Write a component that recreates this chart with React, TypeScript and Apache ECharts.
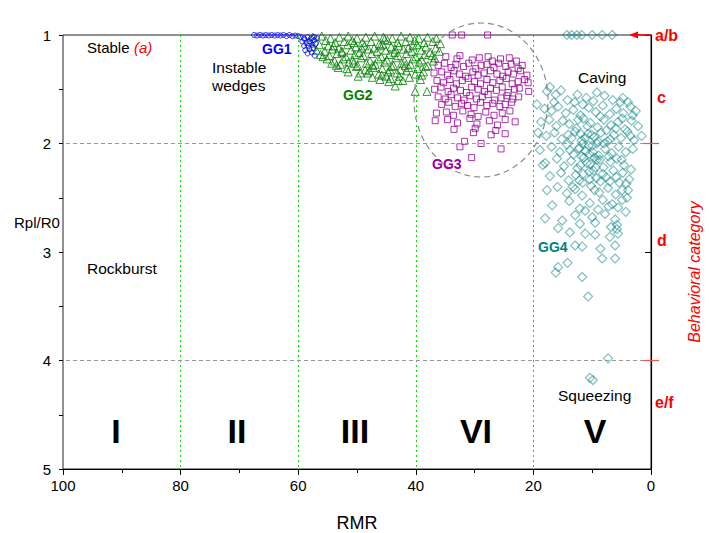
import React, { useEffect, useRef } from "react";
import * as echarts from "echarts";

const FONT = "Arial, 'Liberation Sans', sans-serif";

const xTickStep = 20;
const yTickStep = 1;
const yMinorStep = 0.5;
const regionBounds = [80, 60, 40, 20];
const categoryBounds = [2, 4];

const gg1: number[][] = [
  [67.5, 1.0], [67.0, 1.005], [66.5, 1.0], [66.0, 1.005], [65.5, 1.0], [65.0, 1.005], [64.5, 1.0], [64.0, 1.005],
  [63.5, 1.0], [63.0, 1.005], [62.5, 1.0], [62.0, 1.01], [61.5, 1.0], [61.0, 1.01], [60.5, 1.005], [60.0, 1.01],
  [59.6, 1.02], [59.0, 1.03], [58.4, 1.02], [57.8, 1.03], [57.3, 1.02], [59.3, 1.06], [58.6, 1.07], [58.0, 1.06],
  [57.3, 1.05], [59.0, 1.1], [58.3, 1.1], [57.6, 1.09], [57.0, 1.08], [58.8, 1.14], [58.1, 1.13], [57.4, 1.12],
  [58.4, 1.17], [57.7, 1.16], [57.2, 1.19], [58.9, 1.04], [56.8, 1.03],
];

const gg2: number[][] = [
  [57.5, 1.02], [56.0, 1.01], [54.5, 1.03], [53.0, 1.02], [51.5, 1.01], [50.0, 1.03], [48.5, 1.02], [47.0, 1.01], [45.5, 1.02], [44.0, 1.03], [42.5, 1.01], [41.0, 1.02], [39.5, 1.03], [38.0, 1.02], [36.5, 1.03],
  [58.2, 1.06], [55.3, 1.05], [53.7, 1.07], [52.2, 1.06], [50.8, 1.05], [49.1, 1.07], [47.6, 1.06], [46.2, 1.08], [44.8, 1.05], [43.1, 1.07], [41.7, 1.06], [40.2, 1.05], [38.6, 1.07], [37.1, 1.06], [35.8, 1.08],
  [57.6, 1.11], [56.4, 1.09], [54.9, 1.1], [53.1, 1.12], [51.6, 1.09], [50.2, 1.11], [48.7, 1.1], [47.1, 1.12], [45.6, 1.09], [44.2, 1.11], [42.9, 1.1], [41.3, 1.12], [39.8, 1.09], [38.3, 1.11], [36.6, 1.12],
  [56.9, 1.14], [55.5, 1.15], [54.2, 1.13], [52.6, 1.15], [51.0, 1.14], [49.6, 1.16], [48.1, 1.13], [46.6, 1.15], [45.1, 1.14], [43.6, 1.16], [42.1, 1.13], [40.7, 1.15], [39.1, 1.14], [37.6, 1.16],
  [56.2, 1.18], [54.7, 1.19], [53.4, 1.17], [51.9, 1.2], [50.4, 1.18], [48.9, 1.19], [47.5, 1.17], [45.9, 1.2], [44.5, 1.18], [43.0, 1.19], [41.6, 1.17], [40.0, 1.2], [38.5, 1.18], [37.2, 1.19],
  [55.1, 1.22], [53.8, 1.24], [52.3, 1.22], [50.7, 1.23], [49.3, 1.21], [47.8, 1.24], [46.4, 1.22], [44.9, 1.23], [43.4, 1.21], [41.9, 1.24], [40.5, 1.22], [39.0, 1.23], [36.8, 1.21],
  [54.3, 1.26], [52.8, 1.27], [51.4, 1.25], [49.9, 1.28], [48.4, 1.26], [46.9, 1.27], [45.3, 1.25], [43.8, 1.28], [42.4, 1.26], [40.9, 1.27], [39.4, 1.25], [37.9, 1.28],
  [53.2, 1.3], [51.7, 1.31], [50.1, 1.29], [48.6, 1.32], [47.2, 1.3], [45.7, 1.31], [44.1, 1.29], [42.6, 1.32], [41.2, 1.3], [39.7, 1.31], [38.3, 1.29],
  [51.5, 1.34], [49.4, 1.35], [47.9, 1.33], [46.3, 1.36], [44.7, 1.34], [43.2, 1.35], [41.6, 1.33], [40.1, 1.36], [38.7, 1.34],
  [49.8, 1.38], [47.4, 1.39], [45.8, 1.37], [44.3, 1.4], [42.8, 1.38], [41.1, 1.39],
  [46.1, 1.41], [44.6, 1.43], [42.2, 1.42], [39.2, 1.41],
  [43.5, 1.47], [40.1, 1.52], [38.1, 1.52],
  [52.5, 1.16], [49.2, 1.12], [46.0, 1.1], [43.5, 1.13], [40.5, 1.1], [47.3, 1.28], [44.4, 1.32], [41.8, 1.28], [50.6, 1.26], [55.8, 1.2],
  [53.5, 1.28], [48.2, 1.35], [45.0, 1.38], [43.0, 1.42], [39.0, 1.37], [37.0, 1.24], [36.0, 1.15], [45.3, 1.04], [50.5, 1.07], [54.0, 1.1],
];

const gg3: number[][] = [
  [33.8, 1.0], [32.2, 1.0], [27.8, 1.0],
  [34.9, 1.2], [33.0, 1.22], [32.5, 1.19], [30.4, 1.23], [29.2, 1.21], [27.7, 1.2], [27.0, 1.24], [25.6, 1.22], [24.1, 1.21], [22.9, 1.24],
  [36.2, 1.28], [35.1, 1.26], [34.0, 1.3], [33.2, 1.27], [31.9, 1.29], [31.0, 1.26], [29.8, 1.31], [28.9, 1.28], [27.9, 1.27], [26.7, 1.3], [25.9, 1.26], [24.7, 1.29], [23.8, 1.27], [22.6, 1.31], [21.9, 1.28],
  [36.9, 1.35], [35.6, 1.34], [34.6, 1.37], [33.5, 1.33], [32.6, 1.36], [31.5, 1.38], [30.3, 1.34], [29.4, 1.37], [28.4, 1.35], [27.3, 1.33], [26.2, 1.36], [25.2, 1.38], [24.3, 1.34], [23.4, 1.36], [22.2, 1.33], [21.1, 1.37],
  [36.4, 1.42], [35.3, 1.44], [34.2, 1.41], [33.1, 1.45], [32.1, 1.42], [31.1, 1.4], [30.0, 1.43], [29.0, 1.45], [27.9, 1.41], [26.9, 1.44], [25.7, 1.42], [24.6, 1.4], [23.6, 1.45], [22.6, 1.43], [21.5, 1.41], [20.9, 1.44],
  [36.8, 1.5], [35.7, 1.48], [34.5, 1.52], [33.6, 1.49], [32.4, 1.51], [31.4, 1.53], [30.5, 1.48], [29.4, 1.5], [28.3, 1.52], [27.3, 1.49], [26.3, 1.51], [25.3, 1.48], [24.3, 1.53], [23.2, 1.5], [22.4, 1.49], [20.8, 1.52],
  [36.2, 1.57], [35.0, 1.59], [34.0, 1.55], [32.9, 1.58], [31.8, 1.6], [30.8, 1.56], [29.7, 1.59], [28.7, 1.57], [27.7, 1.55], [26.6, 1.6], [25.5, 1.58], [24.5, 1.56], [23.5, 1.59], [22.5, 1.57],
  [35.6, 1.64], [34.4, 1.62], [33.3, 1.66], [32.2, 1.63], [31.2, 1.65], [30.1, 1.67], [29.0, 1.62], [27.9, 1.65], [26.9, 1.63], [25.7, 1.66], [24.8, 1.64], [23.7, 1.62],
  [36.5, 1.72], [34.8, 1.71], [33.6, 1.74], [32.0, 1.7], [30.6, 1.73], [29.4, 1.75], [28.1, 1.71], [26.7, 1.74], [25.3, 1.72], [24.0, 1.7],
  [36.7, 1.79], [34.6, 1.78], [32.9, 1.81], [30.8, 1.77], [29.6, 1.82], [27.5, 1.79], [26.1, 1.83], [24.8, 1.78], [23.1, 1.8],
  [33.5, 1.87], [30.2, 1.9], [29.9, 1.86], [27.2, 1.92], [26.4, 1.88], [24.8, 1.91],
  [32.5, 2.03], [30.5, 2.13], [25.5, 2.05], [28.9, 2.0], [31.7, 1.98],
];

const gg4: number[][] = [
  [14.3, 1.0], [13.5, 1.0], [12.6, 1.0], [11.8, 1.0], [10.0, 1.0], [8.3, 1.0], [6.6, 1.0],
  [17.7, 1.52], [15.3, 1.51], [9.2, 1.53], [6.5, 1.6], [19.4, 1.64], [12.5, 1.55], [11.0, 1.58], [7.9, 1.56], [4.8, 1.58], [3.9, 1.62], [14.2, 1.6], [16.5, 1.62],
  [18.1, 1.68], [16.9, 1.7], [15.8, 1.66], [14.5, 1.72], [13.2, 1.69], [12.0, 1.74], [10.6, 1.67], [9.4, 1.71], [8.2, 1.65], [7.0, 1.73], [5.9, 1.68], [4.7, 1.72], [3.5, 1.66], [2.6, 1.7],
  [18.7, 1.8], [17.3, 1.78], [16.1, 1.84], [15.0, 1.79], [13.9, 1.82], [12.7, 1.86], [11.5, 1.77], [10.3, 1.81], [9.1, 1.85], [8.0, 1.78], [6.8, 1.83], [5.6, 1.8], [4.4, 1.87], [3.3, 1.79], [2.2, 1.84],
  [17.8, 1.93], [16.4, 1.9], [15.2, 1.96], [14.1, 1.92], [12.9, 1.89], [11.8, 1.97], [10.7, 1.91], [9.6, 1.94], [8.5, 1.9], [7.4, 1.98], [6.3, 1.92], [5.1, 1.95], [4.0, 1.89], [2.9, 1.97], [1.6, 1.93],
  [18.9, 2.06], [16.9, 2.03], [15.5, 2.08], [14.3, 2.01], [13.2, 2.1], [12.2, 2.04], [11.1, 2.07], [10.0, 2.02], [8.9, 2.11], [7.8, 2.05], [6.7, 2.09], [5.5, 2.03], [4.3, 2.08], [3.1, 2.05],
  [18.0, 2.18], [16.0, 2.14], [14.8, 2.21], [13.6, 2.16], [12.5, 2.23], [11.4, 2.13], [10.3, 2.19], [9.2, 2.15], [8.1, 2.22], [6.9, 2.17], [5.8, 2.14], [4.6, 2.2], [3.4, 2.24],
  [17.2, 2.3], [15.3, 2.27], [14.0, 2.34], [12.8, 2.29], [11.6, 2.36], [10.5, 2.26], [9.3, 2.32], [8.2, 2.28], [7.0, 2.35], [5.9, 2.31], [4.8, 2.27], [3.7, 2.33],
  [17.7, 2.43], [15.9, 2.4], [14.3, 2.46], [12.9, 2.42], [11.7, 2.48], [10.2, 2.39], [8.8, 2.45], [7.3, 2.41], [6.0, 2.47], [4.9, 2.43], [4.1, 2.5],
  [16.8, 2.57], [13.9, 2.53], [12.1, 2.6], [10.4, 2.55], [9.0, 2.61], [6.6, 2.56], [4.9, 2.52], [5.6, 2.59],
  [18.0, 2.69], [15.1, 2.71], [12.9, 2.66], [12.1, 2.74], [10.0, 2.68], [9.5, 2.73], [7.8, 2.65], [6.1, 2.7], [5.8, 2.75],
  [15.8, 2.78], [13.8, 2.82], [11.2, 2.83], [9.5, 2.84], [7.0, 2.86], [5.6, 2.83], [5.8, 2.79],
  [12.9, 2.94], [11.7, 2.95], [6.1, 2.94], [8.6, 2.97],
  [15.8, 3.14], [16.2, 3.19], [11.7, 3.23], [8.3, 3.06], [6.1, 3.06], [14.2, 3.1],
  [10.7, 3.41],
  [7.3, 3.98], [10.4, 4.16], [9.9, 4.18],
  [11.2, 1.95], [10.6, 2.02], [9.9, 2.08], [11.8, 2.12], [10.9, 2.18], [9.4, 2.22], [12.3, 2.05], [10.1, 1.92], [8.7, 2.15], [11.5, 2.28], [10.4, 2.33], [9.0, 1.98],
  [19.2, 1.9], [18.4, 2.2],
  [13.0, 1.62], [11.6, 1.64], [9.8, 1.61], [8.6, 1.75], [5.2, 1.62], [3.1, 1.74], [12.4, 1.78], [10.8, 1.84], [7.6, 1.88], [6.0, 1.86],
  [4.9, 1.77], [13.5, 1.95], [12.0, 1.91], [9.2, 2.0], [8.0, 2.0], [6.9, 1.96], [3.5, 1.93], [13.8, 2.06], [11.6, 2.0], [10.5, 2.1],
  [9.6, 2.13], [7.2, 2.12], [5.0, 2.15], [12.0, 2.2], [9.8, 2.25], [8.6, 2.35], [7.6, 2.31], [6.4, 2.25], [4.2, 2.37], [12.2, 2.34],
  [13.3, 2.4], [9.6, 2.43], [5.4, 2.36], [3.9, 2.43], [8.2, 2.52], [7.2, 2.58], [11.2, 2.62], [4.3, 2.63], [6.8, 2.77], [17.2, 1.48], [16.2, 1.55],
];

const regionLabels = ["I", "II", "III", "VI", "V"];
const regionLabelX = [116, 237, 355, 476, 595];

const GRID = { left: 63, right: 58, top: 35, bottom: 64 };

export default function App() {
  const ref = useRef<HTMLDivElement>(null);
  useEffect(() => {
    if (!ref.current) return;
    const chart = echarts.init(ref.current, null, { renderer: "svg" });
    const txt = (text: string, x: number, y: number, extra: any = {}, opts: any = {}) => ({
      type: "text",
      x,
      y,
      z: 100,
      ...opts,
      style: { text, fill: "#000", font: `15px ${FONT}`, align: "left", verticalAlign: "top", ...extra },
    });
    const red = (text: string, x: number, y: number) =>
      txt(text, x, y, { fill: "#ff0000", font: `bold 16px ${FONT}` });
    const graphics: any[] = [
      {
        type: "ellipse",
        z: 50,
        shape: { cx: 481, cy: 100, rx: 67, ry: 77 },
        style: { fill: "none", stroke: "#8a8a8a", lineWidth: 1.2, lineDash: [6, 4] },
      },
      txt("Stable", 87, 40),
      txt("(a)", 134, 40, { fill: "#ff0000", font: `italic 15px ${FONT}` }),
      txt("Instable", 212, 59, { font: `15.5px ${FONT}` }),
      txt("wedges", 212, 77, { font: `15.5px ${FONT}` }),
      txt("GG1", 262, 42, { fill: "#0000ff", font: `bold 14px ${FONT}` }),
      txt("GG2", 343, 88, { fill: "#008000", font: `bold 14px ${FONT}` }),
      txt("GG3", 432, 157, { fill: "#990099", font: `bold 14px ${FONT}` }),
      txt("GG4", 538, 240, { fill: "#008080", font: `bold 14px ${FONT}` }),
      txt("Caving", 578, 69, { font: `15.5px ${FONT}` }),
      txt("Squeezing", 558, 387, { font: `15.5px ${FONT}` }),
      txt("Rockburst", 87, 260, { font: `15.5px ${FONT}` }),
      txt("Rpl/R0", 14, 215),
      red("a/b", 655, 27),
      red("c", 657, 89),
      red("d", 657, 232),
      red("e/f", 655, 394),
      txt("Behavioral category", 694, 272, { fill: "#ff0000", font: `italic 16px ${FONT}`, align: "center", verticalAlign: "middle" }, { rotation: Math.PI / 2 }),
      {
        type: "line",
        z: 100,
        shape: { x1: 636, y1: 35, x2: 652, y2: 35 },
        style: { stroke: "#ff0000", lineWidth: 1.5 },
      },
      {
        type: "polygon",
        z: 100,
        shape: { points: [[629, 35], [638, 31.5], [638, 38.5]] },
        style: { fill: "#ff0000" },
      },
      {
        type: "line",
        z: 100,
        shape: { x1: 643, y1: 143.5, x2: 659, y2: 143.5 },
        style: { stroke: "#ff5050", lineWidth: 1.2 },
      },
      {
        type: "line",
        z: 100,
        shape: { x1: 643, y1: 360.5, x2: 659, y2: 360.5 },
        style: { stroke: "#ff5050", lineWidth: 1.2 },
      },
      ...regionLabels.map((t, i) =>
        txt(t, regionLabelX[i], 431, { font: `bold 34px ${FONT}`, align: "center", verticalAlign: "middle" })
      ),
    ];

    chart.setOption({
      animation: false,
      backgroundColor: "#fff",
      grid: [
        {
          ...GRID,
          containLabel: false,
          outerBoundsMode: "none",
          show: true,
          borderColor: "#222",
          borderWidth: 1,
        },
        {
          ...GRID,
          containLabel: false,
          outerBoundsMode: "none",
          show: false,
        },
      ],
      xAxis: [
        {
          type: "value",
          gridIndex: 0,
          inverse: true,
          min: 0,
          max: 100,
          interval: xTickStep,
          axisLine: { show: true, lineStyle: { color: "#000", width: 1.2 } },
          axisTick: { show: true, length: 6, lineStyle: { color: "#000" } },
          minorTick: { show: true, splitNumber: 2, length: 4, lineStyle: { color: "#000" } },
          splitLine: { show: false },
          axisLabel: { color: "#000", fontSize: 15, fontFamily: FONT, margin: 9 },
          name: "RMR",
          nameLocation: "middle",
          nameGap: 45,
          nameTextStyle: { color: "#000", fontSize: 18, fontFamily: FONT },
        },
        {
          type: "value",
          gridIndex: 1,
          show: false,
          min: 0,
          max: 100,
        },
      ],
      yAxis: [
        {
          type: "value",
          gridIndex: 0,
          inverse: true,
          min: 1,
          max: 5,
          interval: yTickStep,
          position: "left",
          axisLine: { show: true, lineStyle: { color: "#000", width: 1.2 } },
          axisTick: { show: true, length: 6, lineStyle: { color: "#000" } },
          splitLine: { show: false },
          axisLabel: { color: "#000", fontSize: 15, fontFamily: FONT, margin: 12 },
        },
        {
          type: "value",
          gridIndex: 1,
          min: 1,
          max: 5,
          interval: yMinorStep,
          position: "left",
          axisLine: { show: false },
          axisTick: { show: true, inside: false, length: 4, lineStyle: { color: "#000" } },
          splitLine: { show: false },
          axisLabel: { show: false },
        },
      ],
      graphic: graphics,
      series: [
        {
          type: "scatter",
          name: "lines",
          data: [],
          markLine: {
            silent: true,
            symbol: "none",
            label: { show: false },
            data: [
              ...regionBounds.map((v) => ({ xAxis: v, lineStyle: { color: "#00e000", type: [2, 3], width: 1 } })),
              ...categoryBounds.map((v) => ({ yAxis: v, lineStyle: { color: "#999", type: [4, 3], width: 1 } })),
            ],
          },
        },
        {
          type: "scatter",
          name: "GG4",
          data: gg4,
          symbol: "diamond",
          symbolSize: 9,
          itemStyle: { color: "transparent", borderColor: "rgba(0,128,128,0.62)", borderWidth: 1.2 },
        },
        {
          type: "scatter",
          name: "GG3",
          data: gg3,
          symbol: "rect",
          symbolSize: 6,
          itemStyle: { color: "transparent", borderColor: "#990099", borderWidth: 1 },
        },
        {
          type: "scatter",
          name: "GG2",
          data: gg2,
          symbol: "triangle",
          symbolSize: 8,
          itemStyle: { color: "transparent", borderColor: "#008000", borderWidth: 1 },
        },
        {
          type: "scatter",
          name: "GG1",
          data: gg1,
          symbol: "circle",
          symbolSize: 5,
          itemStyle: { color: "transparent", borderColor: "#0000ff", borderWidth: 1 },
        },
      ],
    });
    return () => chart.dispose();
  }, []);
  return <div ref={ref} style={{ width: 709, height: 533, position: "absolute", left: 0, top: 0 }} />;
}
